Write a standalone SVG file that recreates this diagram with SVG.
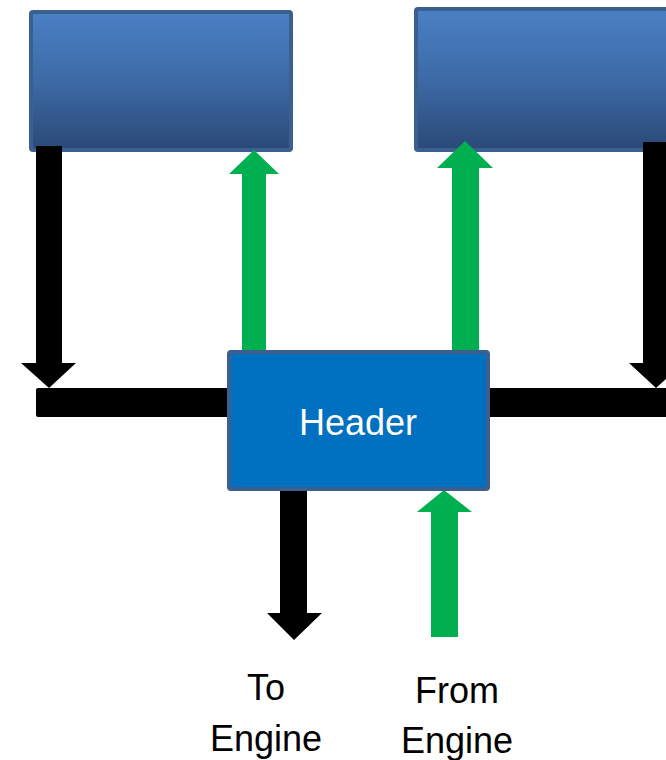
<svg xmlns="http://www.w3.org/2000/svg" width="666" height="760" viewBox="0 0 666 760">
<defs>
<linearGradient id="boxGrad" x1="0" y1="0" x2="0" y2="1">
<stop offset="0" stop-color="#4a80c5"/>
<stop offset="0.5" stop-color="#3d6aa6"/>
<stop offset="1" stop-color="#2a4977"/>
</linearGradient>
</defs>
<style>
.tank{fill:url(#boxGrad);stroke:#3b5f8e;stroke-width:4}
.hdr{fill:#0070c0;stroke:#3b5f8e;stroke-width:4}
.black{fill:#000}
.green{fill:#00b050}
.lbl{font-family:"Liberation Sans",Arial,sans-serif;font-size:36px;text-anchor:middle}
</style>
<rect width="666" height="760" fill="#fff"/>
<g id="tank-left"><rect class="tank" x="31" y="12" width="260" height="138" rx="2"/></g>
<g id="tank-right"><rect class="tank" x="416" y="9" width="260" height="141" rx="2"/></g>
<g id="connectors">
<polygon class="black" points="36,146 62,146 62,363 76,363 49,388 21,363 36,363"/>
<rect class="black" x="36" y="388" width="200" height="29" rx="2"/>
<rect class="black" x="480" y="388" width="190" height="29"/>
<polygon class="black" points="643,142 670,142 670,363 684,363 656,388 629,363 643,363"/>
<polygon class="green" points="242,355 266,355 266,174 279,174 254,150 229,174 242,174"/>
<polygon class="green" points="452,355 479,355 479,168 493,168 465,141 437,168 452,168"/>
<polygon class="black" points="280,488 307,488 307,613 322,613 294,640 267,613 280,613"/>
<polygon class="green" points="431,637 458,637 458,512 472,512 444,490 417,512 431,512"/>
</g>
<g id="header"><rect class="hdr" x="229" y="352" width="259" height="137" rx="2"/>
<text class="lbl" x="358" y="435" fill="#fff">Header</text></g>
<g id="to-engine"><text class="lbl" x="266" y="700">To</text><text class="lbl" x="266" y="751">Engine</text></g>
<g id="from-engine"><text class="lbl" x="457" y="703">From</text><text class="lbl" x="457" y="753">Engine</text></g>
</svg>
